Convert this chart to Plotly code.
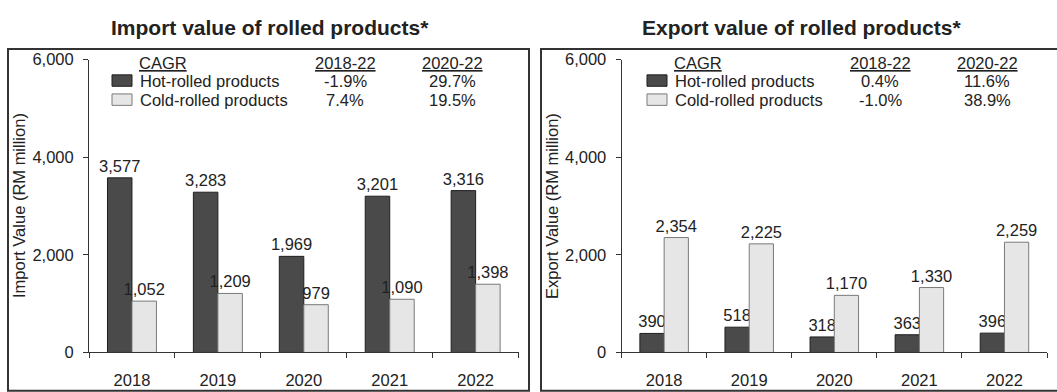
import plotly.graph_objects as go

# Rolled-products trade values, RM million
years = ["2018", "2019", "2020", "2021", "2022"]
import_hot = [3577, 3283, 1969, 3201, 3316]
import_cold = [1052, 1209, 979, 1090, 1398]
export_hot = [390, 518, 318, 363, 396]
export_cold = [2354, 2225, 1170, 1330, 2259]

# CAGR tables shown inside each panel
cagr_periods = ["2018-22", "2020-22"]
series_names = ["Hot-rolled products", "Cold-rolled products"]
import_cagr = [["-1.9%", "29.7%"], ["7.4%", "19.5%"]]
export_cagr = [["0.4%", "11.6%"], ["-1.0%", "38.9%"]]

y_ticks = [0, 2000, 4000, 6000]

W, H = 1057, 392
FONT = "Liberation Sans, Arial, sans-serif"
TXT = "#222222"
DARK = "#4a4a4a"
LIGHT = "#e6e6e6"
FS = 16.5


def px(x):
    return x / W


def py(y):
    return 1 - y / H


fig = go.Figure()

for hot, cold, xa, ya in [
    (import_hot, import_cold, "x", "y"),
    (export_hot, export_cold, "x2", "y2"),
]:
    fig.add_trace(go.Bar(
        x=years, y=hot, xaxis=xa, yaxis=ya, name=series_names[0],
        marker=dict(color=DARK, line=dict(color="#1e1e1e", width=1)),
        texttemplate="%{y:,}", textposition="outside", cliponaxis=False,
        constraintext="none",
        textfont=dict(family=FONT, size=FS, color=TXT),
    ))
    fig.add_trace(go.Bar(
        x=years, y=cold, xaxis=xa, yaxis=ya, name=series_names[1],
        marker=dict(color=LIGHT, line=dict(color="#7a7a7a", width=1)),
        texttemplate="%{y:,}", textposition="outside", cliponaxis=False,
        constraintext="none",
        textfont=dict(family=FONT, size=FS, color=TXT),
    ))

xcommon = dict(
    type="category", showline=True, linecolor="#333333", linewidth=1,
    ticks="outside", ticklen=5, tickcolor="#333333", tickson="boundaries",
    tickfont=dict(family=FONT, size=FS, color=TXT), ticklabelstandoff=13,
    showgrid=False, zeroline=False, range=[-0.5, 4.5],
)
ycommon = dict(
    range=[0, 6000], tickvals=y_ticks, tickformat=",", showline=True,
    linecolor="#333333", linewidth=1, ticks="outside", ticklen=5,
    tickcolor="#333333", tickfont=dict(family=FONT, size=FS, color=TXT),
    showgrid=False, zeroline=False, ticklabelstandoff=6,
)

ydom = [py(360), py(53)]
fig.update_layout(
    width=W, height=H, margin=dict(l=0, r=0, t=0, b=0),
    paper_bgcolor="white", plot_bgcolor="white", showlegend=False,
    barmode="group", bargap=0.43, bargroupgap=0,
    xaxis=dict(domain=[px(89), px(518.6)], anchor="y", **xcommon),
    yaxis=dict(domain=ydom, anchor="x", **ycommon),
    xaxis2=dict(domain=[px(621.6), px(1047)], anchor="y2", **xcommon),
    yaxis2=dict(domain=ydom, anchor="x2", **ycommon),
)

shapes = []
annotations = []

# Panel frames
for x0, x1 in [(8, 529), (541, 1062)]:
    shapes.append(dict(type="rect", xref="paper", yref="paper",
                       x0=px(x0), x1=px(x1), y0=py(400), y1=py(42),
                       line=dict(color="#333333", width=2)))

panels = [
    ("Import value of rolled products*", "Import Value (RM million)",
     import_cagr, 0, 270, 19),
    ("Export value of rolled products*", "Export Value (RM million)",
     export_cagr, 535, 801, 552),
]

for title, ytitle, cagr, dx, tx, yx in panels:
    annotations.append(dict(
        text="<b>%s</b>" % title, x=px(tx), y=py(19), xref="paper",
        yref="paper", showarrow=False, xanchor="center", yanchor="middle",
        font=dict(family=FONT, size=21, color=TXT)))
    annotations.append(dict(
        text=ytitle, x=px(yx), y=py(206.5), xref="paper", yref="paper",
        showarrow=False, textangle=-90, xanchor="center", yanchor="middle",
        font=dict(family=FONT, size=FS, color=TXT)))
    # CAGR header row
    annotations.append(dict(
        text="<u>CAGR</u>", x=px(137 + dx), y=py(57), xref="paper",
        yref="paper", showarrow=False, xanchor="left", yanchor="middle",
        font=dict(family=FONT, size=FS, color=TXT)))
    col_x = [345 + dx, 452 + dx]
    for cx, period in zip(col_x, cagr_periods):
        annotations.append(dict(
            text="<u>%s</u>" % period, x=px(cx), y=py(57), xref="paper",
            yref="paper", showarrow=False, xanchor="center",
            yanchor="middle", font=dict(family=FONT, size=FS, color=TXT)))
    row_y = [75, 95]
    swatch = [(DARK, "#1e1e1e"), (LIGHT, "#7a7a7a")]
    for ry, name, vals, (fc, lc) in zip(row_y, series_names, cagr, swatch):
        shapes.append(dict(
            type="rect", xref="paper", yref="paper",
            x0=px(112 + dx), x1=px(132 + dx), y0=py(ry + 6), y1=py(ry - 6),
            fillcolor=fc, line=dict(color=lc, width=1)))
        annotations.append(dict(
            text=name, x=px(138 + dx), y=py(ry), xref="paper", yref="paper",
            showarrow=False, xanchor="left", yanchor="middle",
            font=dict(family=FONT, size=FS, color=TXT)))
        for cx, v in zip(col_x, vals):
            annotations.append(dict(
                text=v, x=px(cx), y=py(ry), xref="paper", yref="paper",
                showarrow=False, xanchor="center", yanchor="middle",
                font=dict(family=FONT, size=FS, color=TXT)))

fig.update_layout(shapes=shapes, annotations=annotations)

fig.write_html("out.html")
